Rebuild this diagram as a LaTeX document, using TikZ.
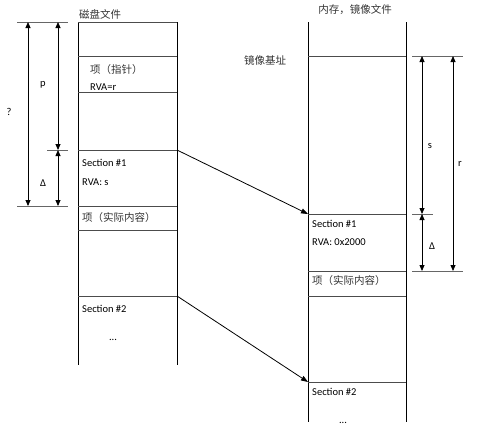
\documentclass[tikz,border=0pt]{standalone}
\usepackage{fontspec}
\setmainfont{Carlito}
\newfontfamily\cjk{Noto Sans CJK SC}
\usetikzlibrary{arrows.meta}
\tikzset{
  sepline/.style={draw=black!70, line width=0.8pt},
  colline/.style={draw=black, line width=0.8pt},
  dimline/.style={line width=0.8pt, {Triangle[length=6pt,width=5pt]}-{Triangle[length=6pt,width=5pt]}},
  extline/.style={draw=black!60, line width=0.8pt},
  lbl/.style={anchor=west, inner sep=0pt},
  zh/.style={font=\fontsize{10.5}{12}\selectfont\cjk, text=black!80},
}
\begin{document}
\begin{tikzpicture}[x=1pt, y=-1pt, font=\fontsize{10.5}{12}\selectfont]
   \useasboundingbox (0,0) rectangle (500,429);
   % disk file column
   \draw[colline] (78,22) -- (78,365);
   \draw[colline] (177,22) -- (177,365);
   \foreach \y in {22,56,92,150,206,230,296}
      \draw[sepline] (78,\y) -- (177,\y);
   % memory image column
   \draw[colline] (308,22) -- (308,422);
   \draw[colline] (406,22) -- (406,422);
   \foreach \y in {56,214,271,296,382}
      \draw[sepline] (308,\y) -- (406,\y);
   % left dimensions
   \draw[extline] (17,22) -- (68,22);
   \draw[extline] (47,150) -- (68,150);
   \draw[extline] (17,206) -- (68,206);
   \draw[dimline] (28,22) -- (28,206);
   \draw[dimline] (58,22) -- (58,150);
   \draw[dimline] (58,150) -- (58,206);
   \node (q) at (9,112) {?};
   \node (p) at (43,85) {p};
   \node (dl) at (43,183) {Δ};
   % right dimensions
   \draw[extline] (412,56) -- (463,56);
   \draw[extline] (412,214) -- (433,214);
   \draw[extline] (412,271) -- (463,271);
   \draw[dimline] (422,56) -- (422,214);
   \draw[dimline] (422,214) -- (422,271);
   \draw[dimline] (453,56) -- (453,271);
   \node (s) at (430,146) {s};
   \node (r) at (460,164) {r};
   \node (dr) at (432,246) {Δ};
   % titles
   \node[zh] (disk) at (100,14) {磁盘文件};
   \node[zh] (mem) at (355,10) {内存，镜像文件};
   \node[zh] (base) at (265,60) {镜像基址};
   % disk file contents
   \node[zh, lbl] (ptr) at (90,70) {项（指针）};
   \node[lbl] (rvar) at (90,87) {RVA=r};
   \node[lbl] (secAa) at (82,163) {Section \#1};
   \node[lbl] (rvas) at (82,182) {RVA: s};
   \node[zh, lbl] (itemA) at (82,218) {项（实际内容）};
   \node[lbl] (secBa) at (82,309) {Section \#2};
   \node (dotsA) at (113,340) {...};
   % memory contents
   \node[lbl] (secAb) at (312,224) {Section \#1};
   \node[lbl] (rvab) at (312,242) {RVA: 0x2000};
   \node[zh, lbl] (itemB) at (312,281) {项（实际内容）};
   \node[lbl] (secBb) at (312,392) {Section \#2};
   \node (dotsB) at (343,423) {...};
   % mapping
   \coordinate (sA) at (177,150);
   \coordinate (sB) at (308,214);
   \coordinate (tA) at (177,296);
   \coordinate (tB) at (308,382);
   \draw[line width=0.8pt, -{Triangle[length=7pt,width=5pt]}] (sA) -- (sB);
   \draw[line width=0.8pt, -{Triangle[length=7pt,width=5pt]}] (tA) -- (tB);
\end{tikzpicture}
\end{document}
